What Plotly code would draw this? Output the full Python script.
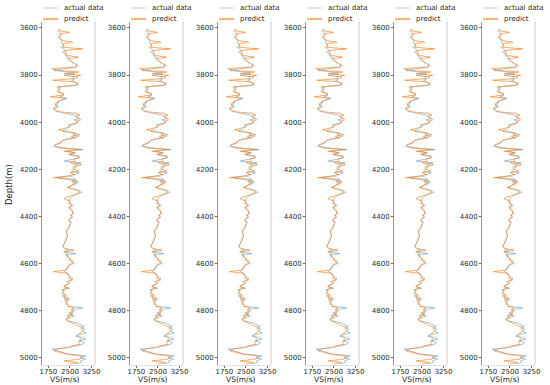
import plotly.graph_objects as go

# ---------------- data ----------------
DEPTH_TOP = 3605      # first sample depth (m)
DEPTH_STEP = 7        # sample spacing (m)

actual = [
    2150, 2080, 2120, 2180, 2140, 2090, 2160, 2220, 2190, 2260,
    2280, 2200, 2270, 2330, 2250, 2380, 2350, 2450, 2420, 2500,
    2580, 2680, 2750, 2700, 2300, 1950, 2400, 2650, 2300, 2780,
    2700, 2550, 2680, 2750, 2780, 2200, 2080, 2150, 2100, 2220,
    2300, 2150, 2400, 2250, 2050, 2100, 1970, 2100, 1930, 1990,
    2100, 2280, 2650, 2750, 2820, 2650, 2780, 2700, 2450, 2520,
    2400, 2320, 2250, 2700, 2600, 2800, 2550, 2330, 2250, 2150,
    2050, 1930, 2300, 2960, 2400, 2700, 2500, 2820, 2850, 2550,
    2300, 2880, 2650, 2750, 2680, 2600, 2550, 2820, 2700, 2400,
    2050, 2700, 2550, 2780, 2600, 2550, 2450, 2650, 2850, 2900,
    2700, 2600, 2550, 2500, 2450, 2520, 2480, 2600, 2500, 2480,
    2560, 2620, 2580, 2540, 2600, 2500, 2470, 2550, 2490, 2510,
    2460, 2440, 2420, 2380, 2400, 2430, 2390, 2380, 2350, 2330,
    2320, 2280, 2250, 2300, 2450, 2280, 2700, 2350, 2440, 2480,
    2500, 2550, 2650, 2480, 2440, 2400, 2380, 2300, 2440, 2420,
    2450, 2600, 2550, 2480, 2500, 2380, 2300, 2420, 2250, 2300,
    2280, 2220, 2350, 2300, 2480, 2350, 2420, 2380, 2480, 2950,
    2600, 2550, 2600, 2450, 2650, 2400, 2350, 2480, 2750, 2850,
    3000, 2900, 3020, 2950, 3070, 2850, 2700, 2950, 3050, 2800,
    3000, 2950, 2700, 2450, 1880, 2100, 2300, 2450, 3050, 2850,
    3050, 2880, 2900, 2700,
]

predict = [
    2170, 2120, 2480, 2150, 2200, 2120, 2190, 2250, 2600, 2230,
    2300, 2250, 2950, 2300, 2380, 2330, 2400, 2800, 2450, 2520,
    2600, 2650, 2780, 2720, 1880, 2050, 2800, 2300, 2880, 2600,
    2650, 1900, 2650, 2800, 2700, 2050, 2150, 2100, 2050, 2280,
    2250, 1820, 2350, 2200, 2080, 2000, 2020, 2050, 1950, 1960,
    2050, 2700, 2850, 2700, 2750, 2880, 2720, 2760, 2550, 2480,
    2350, 2100, 2400, 2650, 2850, 2550, 2700, 2300, 2200, 2180,
    2000, 1980, 2100, 2900, 2300, 2650, 2450, 2780, 2800, 2650,
    2700, 2500, 2900, 2720, 2600, 2650, 2800, 2500, 2650, 2600,
    1930, 2400, 2750, 2600, 2700, 2520, 2400, 2600, 2800, 2850,
    2750, 2550, 2350, 2300, 2500, 2450, 2550, 2580, 2450, 2520,
    2600, 2580, 2620, 2500, 2560, 2520, 2450, 2500, 2530, 2480,
    2480, 2420, 2400, 2360, 2420, 2400, 2410, 2360, 2380, 2310,
    2300, 2260, 2280, 2350, 2650, 2300, 2400, 2420, 2400, 2500,
    2520, 2620, 2550, 2460, 2420, 2380, 2350, 1930, 2400, 2480,
    2500, 2450, 2600, 2400, 2450, 2350, 2280, 2480, 2220, 2280,
    2250, 2380, 2250, 2450, 2300, 2400, 2350, 2450, 2420, 2650,
    2550, 2650, 2480, 2600, 2400, 2500, 2380, 2420, 2600, 2700,
    2800, 2950, 2880, 2920, 2900, 2780, 2750, 2850, 2900, 2850,
    2800, 2850, 2550, 2400, 2050, 1950, 2200, 2400, 2900, 2950,
    2850, 2300, 2750, 2500,
]

depth = [DEPTH_TOP + i * DEPTH_STEP for i in range(len(actual))]

N_PANELS = 6
x_ticks = [1750, 2500, 3250]
y_ticks = [3600, 3800, 4000, 4200, 4400, 4600, 4800, 5000]
x_title = "VS(m/s)"
y_title = "Depth(m)"
series_names = ["actual data", "predict"]

# ---------------- layout geometry ----------------
W, H = 550, 385
panel_left_px = [42, 130, 218, 306, 394, 482]
panel_w_px = 53
top_px, bottom_px = 22, 365
x_range = [1530, 3370]
y_range = [5030, 3575]

FONT = "DejaVu Sans"
TXT = "#262626"
BLUE_LINE = "rgba(31,119,180,0.7)"
BLUE_LEG = "rgba(31,119,180,0.3)"
ORANGE = "#ff7f0e"

fig = go.Figure()
layout = dict(
    width=W, height=H,
    margin=dict(l=0, r=0, t=0, b=0, autoexpand=False),
    paper_bgcolor="white", plot_bgcolor="white",
    font=dict(family=FONT, size=7, color=TXT),
    showlegend=False,
)
shapes = []
annotations = []

def px_x(p):
    return p / W

def px_y(p):
    return 1 - p / H

for k in range(N_PANELS):
    idx = "" if k == 0 else str(k + 1)
    xa, ya = "x" + idx, "y" + idx
    fig.add_trace(go.Scatter(
        x=actual, y=depth, mode="lines", name=series_names[0],
        line=dict(color=BLUE_LINE, width=0.6),
        xaxis=xa, yaxis=ya))
    fig.add_trace(go.Scatter(
        x=predict, y=depth, mode="lines", name=series_names[1],
        line=dict(color=ORANGE, width=0.65),
        xaxis=xa, yaxis=ya))

    left = panel_left_px[k]
    x0 = px_x(left)
    x1 = px_x(left + panel_w_px)
    y0 = px_y(bottom_px)
    y1 = px_y(top_px)
    layout["xaxis" + idx] = dict(
        domain=[x0, x1], range=x_range, anchor=ya, automargin=False,
        tickvals=x_ticks, ticks="outside", ticklen=2, tickcolor="#666",
        ticklabelstandoff=-2,
        tickfont=dict(size=7, color=TXT), showgrid=False, zeroline=False,
        showline=True, linecolor="#dddddd", linewidth=1,
    )
    layout["yaxis" + idx] = dict(
        domain=[y0, y1], range=y_range, anchor=xa, automargin=False,
        tickvals=y_ticks, ticks="outside", ticklen=2, tickcolor="#666",
        tickfont=dict(size=7, color=TXT), showgrid=False, zeroline=False,
        showline=True, linecolor="#999999", linewidth=1,
    )
    # right spine
    shapes.append(dict(type="line", xref=xa + " domain", yref=ya + " domain",
                       x0=1, x1=1, y0=0, y1=1,
                       line=dict(color="#cccccc", width=1)))
    # x-axis title
    annotations.append(dict(
        text=x_title, x=px_x(left + panel_w_px / 2 - 4), y=0,
        xref="paper", yref="paper", xanchor="center", yanchor="bottom",
        showarrow=False, font=dict(size=7.5, color=TXT), borderpad=0))
    # legend (per panel)
    for name, col, ypx in [(series_names[0], BLUE_LEG, 8),
                           (series_names[1], ORANGE, 19)]:
        shapes.append(dict(type="line", xref="paper", yref="paper",
                           x0=px_x(left + 1), x1=px_x(left + 16),
                           y0=px_y(ypx), y1=px_y(ypx),
                           line=dict(color=col, width=1.2)))
        annotations.append(dict(
            text=name, x=px_x(left + 21), y=px_y(ypx),
            xref="paper", yref="paper", xanchor="left", yanchor="middle",
            showarrow=False, font=dict(size=7, color=TXT), borderpad=0))

# y-axis title (first panel only)
annotations.append(dict(
    text=y_title, x=px_x(3), y=px_y(185), xref="paper", yref="paper",
    xanchor="left", yanchor="middle", textangle=-90, showarrow=False,
    font=dict(size=8.5, color=TXT), borderpad=0))

layout["shapes"] = shapes
layout["annotations"] = annotations
fig.update_layout(**layout)
fig.write_html("out.html",
               config={"displayModeBar": False},
               post_script="document.body.style.margin='0px';document.body.style.overflow='hidden';")
